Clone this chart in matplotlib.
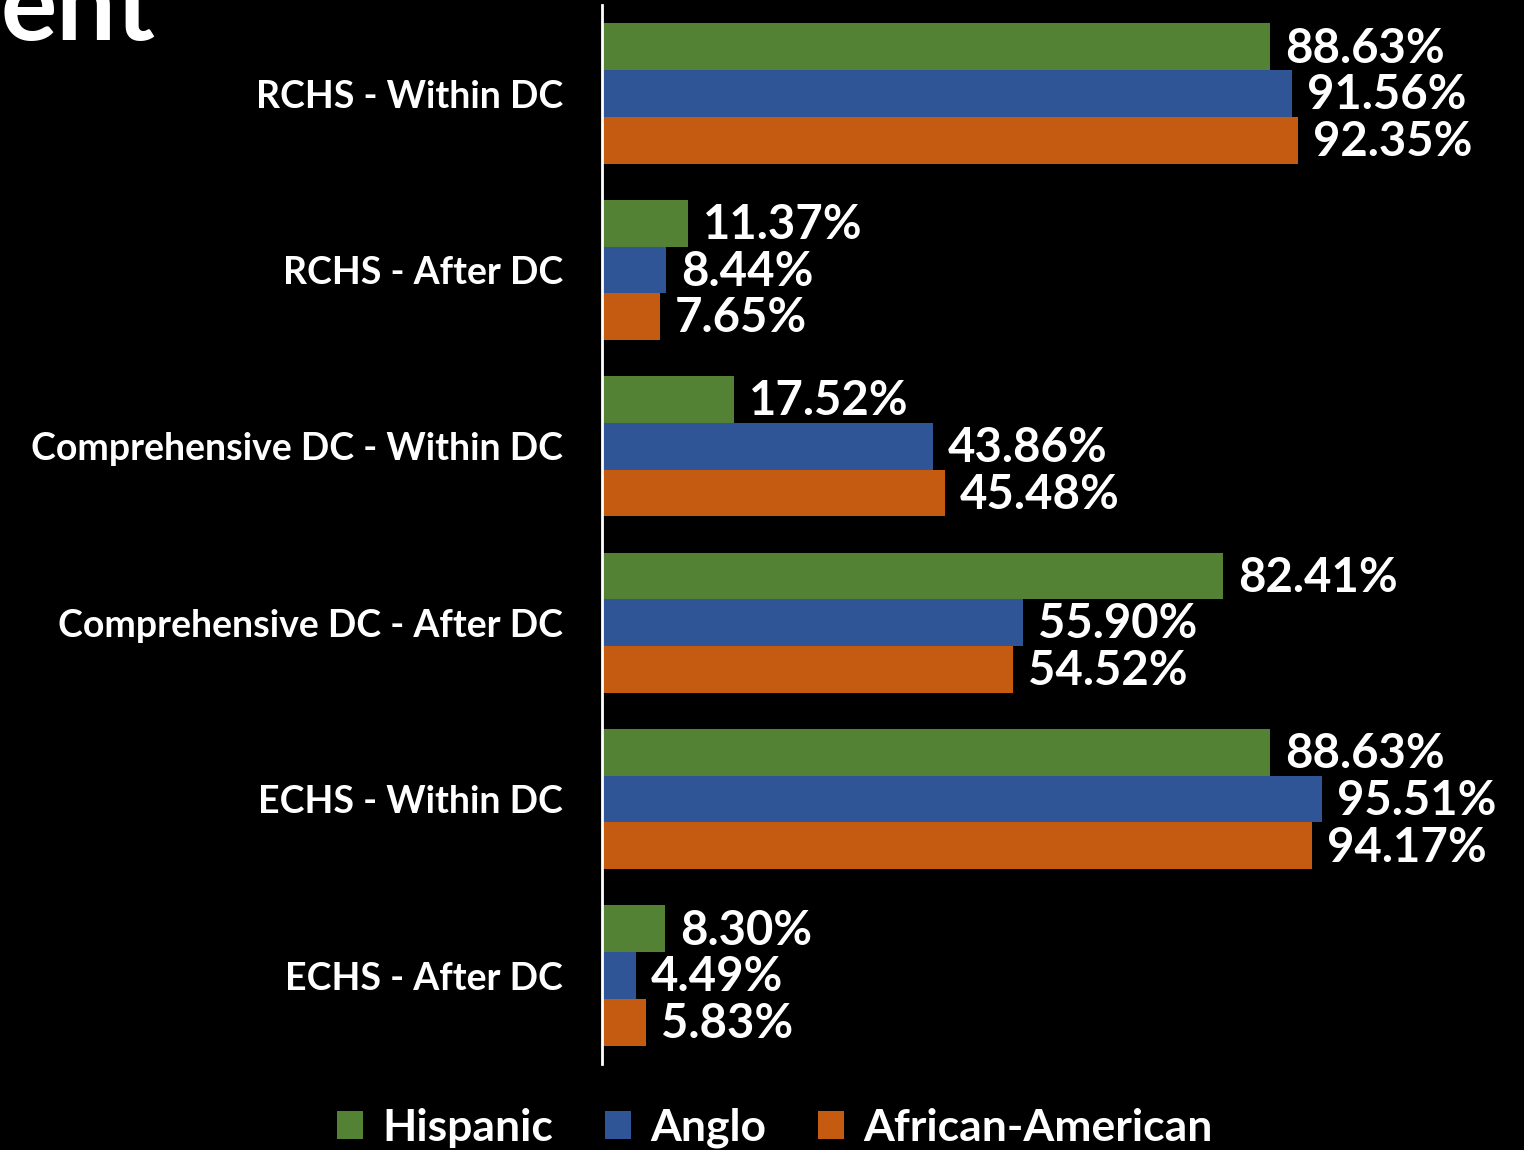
import matplotlib.pyplot as plt
import numpy as np

plt.rcParams['font.family'] = ['Lato', 'DejaVu Sans']
plt.rcParams['font.weight'] = 'bold'

categories = ["RCHS - Within DC", "RCHS - After DC",
              "Comprehensive DC - Within DC", "Comprehensive DC - After DC",
              "ECHS - Within DC", "ECHS - After DC"]
hispanic = [88.63, 11.37, 17.52, 82.41, 88.63, 8.30]
anglo = [91.56, 8.44, 43.86, 55.90, 95.51, 4.49]
african_american = [92.35, 7.65, 45.48, 54.52, 94.17, 5.83]

series = [("Hispanic", hispanic, "#548235"),
          ("Anglo", anglo, "#2F5597"),
          ("African-American", african_american, "#C55A11")]

fig = plt.figure(figsize=(15.24, 11.5), dpi=100, facecolor="black")
ax = fig.add_axes([602 / 1524, 1 - 1063.7 / 1150, 1 - 602 / 1524, 1058.4 / 1150])
ax.set_facecolor("black")

y = np.arange(len(categories))
h = 0.265
for k, (name, vals, col) in enumerate(series):
    pos = y + (k - 1) * h
    ax.barh(pos, vals, height=h, color=col, label=name)
    for p, v in zip(pos, vals):
        ax.text(v + 2.0, p + 0.01, f"{v:.2f}%", color="white", fontsize=34,
                fontweight="bold", va="center", ha="left")

ax.set_xlim(0, 122.3)
ax.set_ylim(len(categories) - 0.5, -0.5)
ax.set_yticks(y)
ax.set_yticklabels(categories, color="white", fontsize=27, fontweight="bold")
ax.tick_params(axis="y", length=0, pad=28)
ax.set_xticks([])
for s in ["top", "right", "bottom"]:
    ax.spines[s].set_visible(False)
ax.spines["left"].set_color("white")
ax.spines["left"].set_linewidth(2)

leg = fig.legend(loc="center", bbox_to_anchor=(775 / 1524, 1 - 1128 / 1150), ncol=3,
                 frameon=False, fontsize=32, handlelength=0.58, handleheight=0.58,
                 handletextpad=0.45, columnspacing=1.15)
for t in leg.get_texts():
    t.set_color("white")
    t.set_fontweight("bold")

# cut-off slide title in the top-left corner
fig.text(155 / 1524, 1 - 40 / 1150, "ent", color="white", fontsize=76,
         fontweight="bold", ha="right", va="baseline")

fig.savefig("out.png", dpi=100, facecolor="black")
